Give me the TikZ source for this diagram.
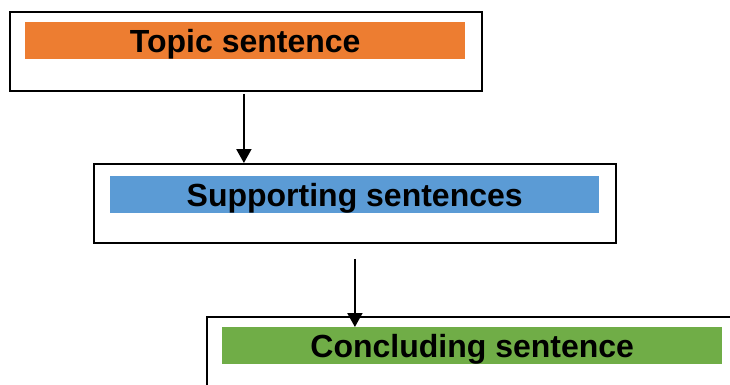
\documentclass[tikz,border=0pt]{standalone}
\usepackage{fontspec}
\setmainfont{Liberation Sans}
\usetikzlibrary{arrows.meta,calc}
\definecolor{topicorange}{RGB}{237,125,49}
\definecolor{supportblue}{RGB}{91,155,213}
\definecolor{concludegreen}{RGB}{112,173,71}
\tikzset{
  outerbox/.style={draw,line width=1.8pt,anchor=north west,minimum height=79pt,inner sep=0pt},
  titleband/.style={anchor=north west,minimum height=37pt,inner sep=0pt,text height=23pt,text depth=0pt,
    font=\fontsize{32}{38}\selectfont\bfseries},
  flow/.style={line width=2pt,-{Triangle[width=15pt,length=14pt]}}
}
\begin{document}
\begin{tikzpicture}[x=1pt,y=-1pt]
  \useasboundingbox (0,0) rectangle (730,384);
  \clip (0,0) rectangle (730,384);
  % three boxes, each with a coloured title band
  \node[outerbox,minimum width=472pt] (topicbox) at (9,11) {};
  \node[titleband,fill=topicorange,minimum width=440pt] (topicband) at (25,22) {Topic sentence};
  \node[outerbox,minimum width=522pt] (supportbox) at (93,163) {};
  \node[titleband,fill=supportblue,minimum width=489pt] (supportband) at (110,176) {Supporting sentences};
  \node[outerbox,minimum width=540pt,minimum height=100pt] (concludebox) at (206,316) {};
  \node[titleband,fill=concludegreen,minimum width=500pt] (concludeband) at (222,327) {Concluding sentence};
  % arrows
  \draw[flow] ([xshift=-2pt,yshift=-2pt]topicbox.south) -- ([xshift=-2pt]topicbox.south |- supportbox.north);
  \draw[flow] ([yshift=-15pt]supportbox.south) -- (supportbox.south |- concludeband.north);
\end{tikzpicture}
\end{document}
